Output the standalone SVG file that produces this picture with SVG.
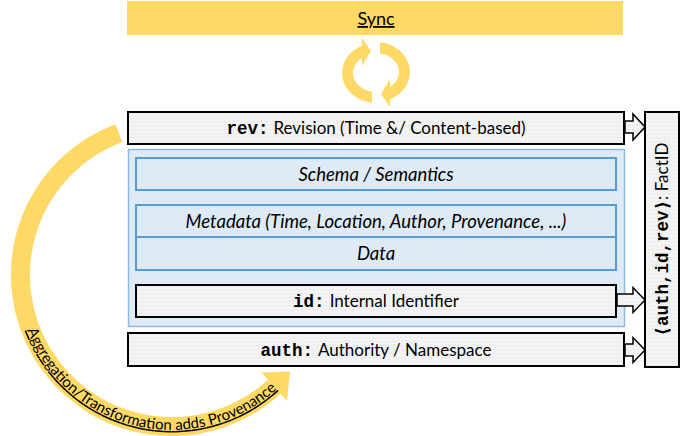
<svg xmlns="http://www.w3.org/2000/svg" width="694" height="436" viewBox="0 0 694 436">
<defs>
<pattern id="dots" width="4" height="4" patternUnits="userSpaceOnUse"><rect width="4" height="4" fill="#f3f3f3"/><rect x="1" y="1" width="1" height="1" fill="#dedede"/></pattern>
<style>
.gray{fill:url(#dots);stroke:#000;stroke-width:2}
.cont{fill:#deebf7;stroke:#8db8e2;stroke-width:1.5}
.blue{fill:#deebf7;stroke:#5b9bd5;stroke-width:2}
.yel{fill:#ffd966}
.blk{fill:url(#dots);stroke:#000;stroke-width:1.5;stroke-linejoin:miter}
.t{font-family:Lato,"Liberation Sans",sans-serif;font-size:17px;fill:#000;text-anchor:middle}
.it{font-style:italic;font-size:18.5px}
.m{font-family:"Liberation Mono","DejaVu Sans Mono",monospace;font-weight:bold;font-size:17.5px}
</style>
</defs>
<g id="sync">
<rect class="yel" x="127" y="1" width="496" height="34"/>
<text class="t" x="376" y="25" style="font-size:18px" text-decoration="underline">Sync</text>
</g>
<g id="sync-icon">
<path id="cyc" class="yel" d="M372 102.8 A34 30 0 0 1 362 45.7 L362 38 L371 51 L362 66 L362 57.9 A23 19 0 0 0 372 91.7 Z"/>
<use href="#cyc" transform="rotate(180 376 72.5)"/>
</g>
<g id="aggregation">
<path d="M118.9 133.1 A151.5 151.5 0 1 0 274.3 386.7" fill="none" stroke="#ffd966" stroke-width="19"/>
<polygon class="yel" points="261.5,372.5 287,401 290,371.5"/>
<path id="tp" d="M27.1 330 A155 155 0 0 0 290.7 374.6" fill="none"/>
<text font-family="Lato,'Liberation Sans',sans-serif" font-size="15" text-decoration="underline"><textPath href="#tp">Aggregation/Transformation adds Provenance</textPath></text>
</g>
<g id="rev">
<rect class="gray" x="128" y="112" width="496" height="32"/>
<text class="t" x="376" y="134"><tspan class="m">rev:</tspan><tspan dx="5">Revision (Time &amp;/ Content-based)</tspan></text>
</g>
<g id="container">
<rect class="cont" x="128.5" y="149.5" width="496" height="177"/>
</g>
<g id="schema">
<rect class="blue" x="136" y="158" width="480" height="32"/>
<text class="t it" x="376" y="180.5">Schema / Semantics</text>
</g>
<g id="metadata">
<rect class="blue" x="136" y="205" width="480" height="32"/>
<text class="t it" x="376" y="227.5">Metadata (Time, Location, Author, Provenance, ...)</text>
</g>
<g id="data">
<rect class="blue" x="136" y="237" width="480" height="33"/>
<text class="t it" x="376" y="260">Data</text>
</g>
<g id="id">
<rect class="gray" x="136" y="285" width="480" height="32"/>
<text class="t" x="376" y="306.5"><tspan class="m">id:</tspan><tspan dx="5">Internal Identifier</tspan></text>
</g>
<g id="auth">
<rect class="gray" x="128" y="333" width="496" height="33"/>
<text class="t" x="376" y="356"><tspan class="m">auth:</tspan><tspan dx="5">Authority / Namespace</tspan></text>
</g>
<g id="factid">
<rect class="gray" x="645" y="112" width="34" height="255"/>
<text class="t" transform="translate(668 239.5) rotate(-90)" x="0" y="0"><tspan class="m">⟨auth,id,rev⟩</tspan>: FactID</text>
</g>
<g id="connectors">
<path class="blk" d="M625 121 L633 121 L633 114 L645 127 L633 140 L633 133 L625 133 Z"/>
<path class="blk" d="M617 294 L633 294 L633 287.5 L645 300 L633 312.5 L633 306 L617 306 Z"/>
<path class="blk" d="M625 344 L633 344 L633 337.5 L645 350 L633 362.5 L633 356 L625 356 Z"/>
</g>
</svg>
